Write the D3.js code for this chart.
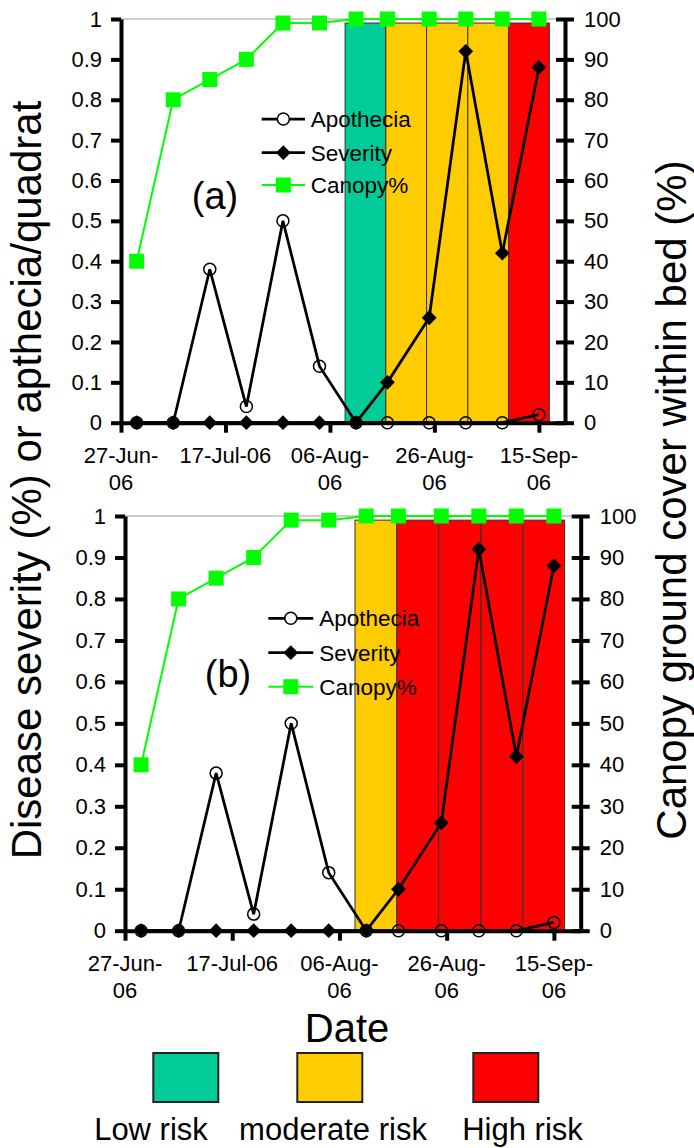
<!DOCTYPE html>
<html>
<head>
<meta charset="utf-8">
<script src="https://cdn.jsdelivr.net/npm/d3@7"></script>
<style>
  body { margin: 0; background: #fff; }
  svg { display: block; font-family: "Liberation Sans", Arial, sans-serif; }
</style>
</head>
<body>
<div class="chart"></div>
<script>
// sampling dates, as days after 27-Jun-06
const sampleDays = [3, 10, 17, 24, 31, 38, 45, 51, 59, 66, 73, 80];
const apothecia = [0, 0, 0.38, 0.04, 0.5, 0.14, 0, 0, 0, 0, 0, 0.02];
const severity = [0, 0, 0, 0, 0, 0, 0, 10, 26, 92, 42, 88];
const canopy = [40, 80, 85, 90, 99, 99, 100, 100, 100, 100, 100, 100];

const tickDays = [0, 20, 40, 60, 80];
const tickLabels = [["27-Jun-", "06"], ["17-Jul-06"], ["06-Aug-", "06"], ["26-Aug-", "06"], ["15-Sep-", "06"]];
const leftTicks = [0, 0.1, 0.2, 0.3, 0.4, 0.5, 0.6, 0.7, 0.8, 0.9, 1];
const rightTicks = [0, 10, 20, 30, 40, 50, 60, 70, 80, 90, 100];

// risk columns (day edges) and their level in each panel
const bandEdges = [42.9, 50.7, 58.5, 66.4, 74.2, 82.0];
const bandValue = 99;
const riskA = ["Low risk", "moderate risk", "moderate risk", "moderate risk", "High risk"];
const riskB = ["moderate risk", "High risk", "High risk", "High risk", "High risk"];
const riskLevels = ["Low risk", "moderate risk", "High risk"];
const riskColors = ["#00CC99", "#FFCC00", "#FF0000"];
const seriesNames = ["Apothecia", "Severity", "Canopy%"];

const W = 694, H = 1148;
const riskColor = d3.scaleOrdinal().domain(riskLevels).range(riskColors);

const svg = d3.select(".chart").append("svg")
  .attr("width", W)
  .attr("height", H);

const diamond = d3.symbol().type(d3.symbolSquare).size(110);
const square = d3.symbol().type(d3.symbolSquare).size(225);

function drawPanel(p) {
  const x = d3.scaleLinear().domain([0, 85]).range([p.left, p.right]);
  const yL = d3.scaleLinear().domain([0, 1]).range([p.bottom, p.top]);
  const yR = d3.scaleLinear().domain([0, 100]).range([p.bottom, p.top]);
  const g = svg.append("g");
  const idx = d3.range(sampleDays.length);

  g.selectAll("rect.band")
    .data(p.risk)
    .enter()
    .append("rect")
    .attr("class", "band")
    .attr("x", (d, i) => x(bandEdges[i]))
    .attr("width", (d, i) => x(bandEdges[i + 1]) - x(bandEdges[i]))
    .attr("y", yR(bandValue))
    .attr("height", yR(0) - yR(bandValue))
    .attr("fill", d => riskColor(d))
    .attr("stroke", "#333")
    .attr("stroke-width", 1);

  g.append("line")
    .attr("x1", p.left).attr("x2", p.right)
    .attr("y1", p.top).attr("y2", p.top)
    .attr("stroke", "#999").attr("stroke-width", 1);

  // axes
  const axL = g.append("g")
    .attr("transform", `translate(${p.left},0)`)
    .call(d3.axisLeft(yL).tickValues(leftTicks).tickSize(10).tickSizeOuter(0)
      .tickPadding(9).tickFormat(d => String(+d.toFixed(1))));
  const axR = g.append("g")
    .attr("transform", `translate(${p.right},0)`)
    .call(d3.axisRight(yR).tickValues(rightTicks).tickSize(9).tickSizeOuter(0)
      .tickPadding(10).tickFormat(d => String(d)));
  axR.selectAll(".tick line").attr("x1", -9);
  const axX = g.append("g")
    .attr("transform", `translate(0,${p.bottom})`)
    .call(d3.axisBottom(x).tickValues(tickDays).tickSize(10).tickSizeOuter(0).tickFormat(""));

  [axL, axR, axX].forEach(a => {
    a.attr("font-family", null).attr("font-size", 22);
    a.select(".domain").attr("stroke", "#000").attr("stroke-width", 4);
    a.selectAll(".tick line").attr("stroke", "#000").attr("stroke-width", 4);
    a.selectAll(".tick text").attr("fill", "#000");
  });

  const xl = g.selectAll("text.xlab")
    .data(tickDays)
    .enter()
    .append("text")
    .attr("class", "xlab")
    .attr("text-anchor", "middle")
    .attr("font-size", 22)
    .attr("x", d => x(d))
    .attr("y", p.bottom + 40);
  xl.selectAll("tspan")
    .data((d, i) => tickLabels[i])
    .enter()
    .append("tspan")
    .attr("x", function () { return this.parentNode.getAttribute("x"); })
    .attr("dy", (d, i) => i === 0 ? 0 : 27)
    .text(d => d);

  // series
  const apoLine = d3.line().x(i => x(sampleDays[i])).y(i => yL(apothecia[i]));
  const sevLine = d3.line().x(i => x(sampleDays[i])).y(i => yR(severity[i]));
  const canLine = d3.line().x(i => x(sampleDays[i])).y(i => yR(canopy[i]));

  g.append("path").attr("d", apoLine(idx))
    .attr("fill", "none").attr("stroke", "#000").attr("stroke-width", 2.75);
  g.append("path").attr("d", sevLine(idx))
    .attr("fill", "none").attr("stroke", "#000").attr("stroke-width", 2.75);

  g.selectAll("circle.apo")
    .data(idx)
    .enter()
    .append("circle")
    .attr("class", "apo")
    .attr("cx", i => x(sampleDays[i]))
    .attr("cy", i => yL(apothecia[i]))
    .attr("r", 6)
    .attr("fill", "none")
    .attr("stroke", "#000")
    .attr("stroke-width", 1.5);

  g.selectAll("path.sev")
    .data(idx)
    .enter()
    .append("path")
    .attr("class", "sev")
    .attr("d", diamond)
    .attr("transform", i => `translate(${x(sampleDays[i])},${yR(severity[i])}) rotate(45)`)
    .attr("fill", "#000");

  g.append("path").attr("d", canLine(idx))
    .attr("fill", "none").attr("stroke", "#00FF00").attr("stroke-width", 2);

  g.selectAll("path.can")
    .data(idx)
    .enter()
    .append("path")
    .attr("class", "can")
    .attr("d", square)
    .attr("transform", i => `translate(${x(sampleDays[i])},${yR(canopy[i])})`)
    .attr("fill", "#00FF00");

  // in-plot legend
  const lg = g.append("g");
  seriesNames.forEach((name, i) => {
    const ry = p.legY[i];
    const mid = (p.legX1 + p.legX2) / 2;
    const col = i === 2 ? "#00FF00" : "#000";
    lg.append("line")
      .attr("x1", p.legX1).attr("x2", p.legX2)
      .attr("y1", ry).attr("y2", ry)
      .attr("stroke", col).attr("stroke-width", i === 2 ? 2 : 2.75);
    if (i === 0) {
      lg.append("circle").attr("cx", mid).attr("cy", ry).attr("r", 6)
        .attr("fill", "#fff").attr("stroke", "#000").attr("stroke-width", 1.5);
    } else if (i === 1) {
      lg.append("path").attr("d", diamond)
        .attr("transform", `translate(${mid},${ry}) rotate(45)`).attr("fill", "#000");
    } else {
      lg.append("path").attr("d", square)
        .attr("transform", `translate(${mid},${ry})`).attr("fill", "#00FF00");
    }
    lg.append("text")
      .attr("x", p.legText).attr("y", ry)
      .attr("dy", "0.35em")
      .attr("font-size", 22.5)
      .text(name);
  });

  g.append("text")
    .attr("x", p.tagX).attr("y", p.tagY)
    .attr("text-anchor", "middle")
    .attr("font-size", 38)
    .text(p.tag);
}

drawPanel({
  left: 121, right: 565, top: 19, bottom: 422.7,
  risk: riskA, tag: "(a)", tagX: 215, tagY: 209,
  legX1: 261.7, legX2: 305, legText: 310.7, legY: [119, 152.7, 185]
});
drawPanel({
  left: 125, right: 580.7, top: 516, bottom: 930.7,
  risk: riskB, tag: "(b)", tagX: 228, tagY: 687,
  legX1: 268.3, legX2: 313.3, legText: 319.3, legY: [618.3, 652.7, 686.7]
});

// axis titles
svg.append("text")
  .attr("transform", "translate(41,480) rotate(-90)")
  .attr("text-anchor", "middle")
  .attr("font-size", 42)
  .text("Disease severity (%) or apthecia/quadrat");
svg.append("text")
  .attr("transform", "translate(686,500) rotate(-90)")
  .attr("text-anchor", "middle")
  .attr("font-size", 42)
  .text("Canopy ground cover within bed (%)");
svg.append("text")
  .attr("x", 347).attr("y", 1042)
  .attr("text-anchor", "middle")
  .attr("font-size", 40)
  .text("Date");

// risk legend
const boxX = [153.3, 297.3, 473.3];
const labelX = [151, 333, 522.5];
const leg = svg.append("g");
leg.selectAll("rect")
  .data(riskLevels)
  .enter()
  .append("rect")
  .attr("x", (d, i) => boxX[i])
  .attr("y", 1053)
  .attr("width", 65)
  .attr("height", 49)
  .attr("fill", d => riskColor(d))
  .attr("stroke", "#222")
  .attr("stroke-width", 2);
leg.selectAll("text")
  .data(riskLevels)
  .enter()
  .append("text")
  .attr("x", (d, i) => labelX[i])
  .attr("y", 1140)
  .attr("text-anchor", "middle")
  .attr("font-size", 31)
  .text(d => d);
</script>
</body>
</html>
